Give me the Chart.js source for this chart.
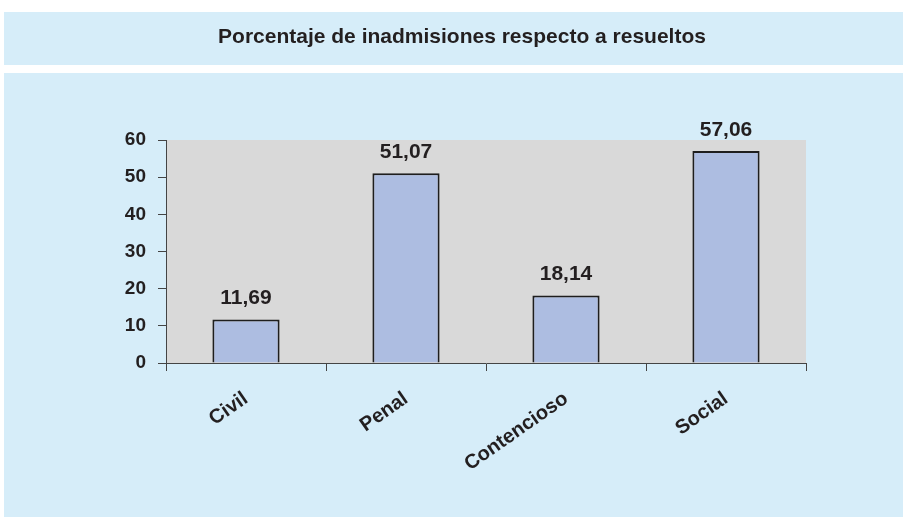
<!DOCTYPE html>
<html>
<head>
<meta charset="utf-8">
<script src="https://cdn.jsdelivr.net/npm/chart.js@4"></script>
<style>
  body { margin: 0; background: #fff; }
  canvas { display: block; }
</style>
</head>
<body>
<canvas id="inadChart" width="903" height="517"></canvas>
<script>
const categories = ['Civil', 'Penal', 'Contencioso', 'Social'];
const porcentajes = [11.69, 51.07, 18.14, 57.06];
const yTicks = [0, 10, 20, 30, 40, 50, 60];
const chartTitle = 'Porcentaje de inadmisiones respecto a resueltos';

const FONT = '"Liberation Sans", Arial, sans-serif';
const PANEL = '#d6edf9';
const TEXT = '#231f20';

// panels, title and grey plot background
const background = {
  id: 'background',
  beforeDraw(chart) {
    const c = chart.ctx;
    const area = chart.chartArea;
    c.save();
    c.fillStyle = '#ffffff';
    c.fillRect(0, 0, chart.width, chart.height);
    c.fillStyle = PANEL;
    c.fillRect(4, 12, chart.width - 4, 53);
    c.fillRect(4, 73, chart.width - 4, chart.height - 73);
    c.fillStyle = TEXT;
    c.font = 'bold 21px ' + FONT;
    c.textAlign = 'center';
    c.textBaseline = 'middle';
    c.fillText(chartTitle, 462, 37);
    c.fillStyle = '#d9d9d9';
    c.fillRect(area.left, area.top, area.right - area.left, area.bottom - area.top);
    c.restore();
  }
};

// value labels above the bars
const valueLabels = {
  id: 'valueLabels',
  afterDatasetsDraw(chart) {
    const c = chart.ctx;
    const meta = chart.getDatasetMeta(0);
    c.save();
    c.fillStyle = TEXT;
    c.font = 'bold 21px ' + FONT;
    c.textAlign = 'center';
    c.textBaseline = 'middle';
    meta.data.forEach((bar, i) => {
      c.fillText(porcentajes[i].toFixed(2).replace('.', ','), bar.x, bar.y - 21);
    });
    c.restore();
  }
};

const ctx = document.getElementById('inadChart').getContext('2d');

new Chart(ctx, {
  type: 'bar',
  data: {
    labels: categories,
    datasets: [{
      data: porcentajes,
      backgroundColor: '#adbde1',
      borderColor: '#1e1e1e',
      borderWidth: 2,
      barPercentage: 0.42,
      categoryPercentage: 1
    }]
  },
  options: {
    responsive: false,
    animation: false,
    layout: { padding: { left: 10, top: 140, right: 97, bottom: 0 } },
    plugins: {
      legend: { display: false },
      tooltip: { enabled: false }
    },
    scales: {
      x: {
        afterFit(scale) { scale.height = 154; },
        grid: {
          drawOnChartArea: false,
          drawTicks: true,
          tickLength: 8,
          color: '#444'
        },
        border: { display: true, color: '#444', width: 1 },
        ticks: {
          color: TEXT,
          font: { family: FONT, size: 20, weight: 'bold' },
          minRotation: 35,
          maxRotation: 35,
          autoSkip: false,
          padding: 16
        }
      },
      y: {
        min: 0,
        max: 60,
        afterFit(scale) { scale.width = 156; },
        afterBuildTicks(scale) { scale.ticks = yTicks.map(v => ({ value: v })); },
        grid: {
          drawOnChartArea: false,
          drawTicks: true,
          tickLength: 8,
          color: '#444'
        },
        border: { display: true, color: '#444', width: 1 },
        ticks: {
          color: TEXT,
          font: { family: FONT, size: 19, weight: 'bold' },
          padding: 12
        }
      }
    }
  },
  plugins: [background, valueLabels]
});
</script>
</body>
</html>
